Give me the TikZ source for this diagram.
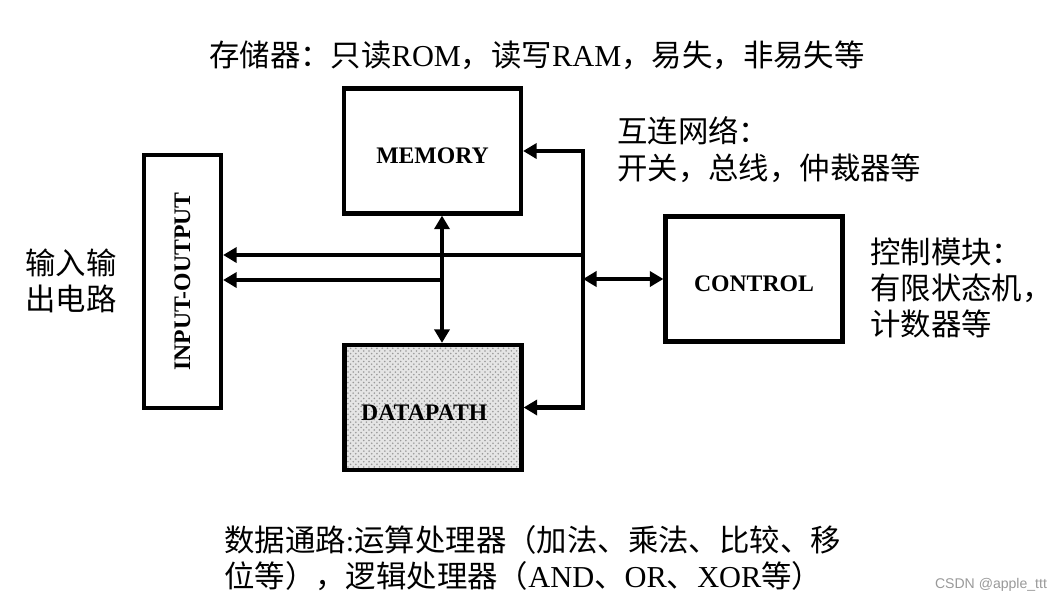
\documentclass[tikz,border=0pt]{standalone}
\usepackage{fontspec}
\setmainfont{Liberation Serif}
\newfontfamily\cjk{Noto Sans CJK SC}
\newfontfamily\wmfont{Liberation Sans}
\usetikzlibrary{arrows.meta,patterns,positioning}
\newcommand{\lat}[1]{{\rmfamily #1}}

\begin{document}
\begin{tikzpicture}[
    block/.style={rectangle, draw, line width=2.4pt, minimum width=3.54cm, minimum height=2.5cm, text height=0.5cm, text depth=0cm, font=\fontsize{13.5}{16}\selectfont\bfseries},
    arrow/.style={-{Triangle[length=0.27cm, width=0.3cm]}, line width=2.4pt},
    dblarrow/.style={{Triangle[length=0.27cm, width=0.3cm]}-{Triangle[length=0.27cm, width=0.3cm]}, line width=2.4pt},
    note/.style={align=left, inner sep=0pt, font=\fontsize{17.3}{20.5}\selectfont\cjk}
]
\useasboundingbox (0,0) rectangle (21.26,-12.08);

% the four units
\node[block] (memory) at (8.65,-3.02) {MEMORY};
\node[block, preaction={fill=gray!20}, pattern=crosshatch dots, pattern color=gray!80] (datapath) at (8.66,-8.15) {DATAPATH\hspace*{0.35cm}};
\node[block] (control) at (15.08,-5.58) {CONTROL};
\node[block, minimum width=1.54cm, minimum height=5.06cm] (io) at (3.65,-5.63) {};
\node[rotate=90, font=\fontsize{13.5}{16}\selectfont\bfseries] (iolabel) at (io.center) {INPUT-OUTPUT};

% bus and taps
\coordinate (bus) at (11.66,-5.6);
\coordinate (tap) at (8.84,-5.6);
\coordinate (upper) at (11.66,-5.10);

\draw[dblarrow] (memory.east) -- (memory.east -| bus) -- (datapath.east -| bus) -- (datapath.east);
\draw[dblarrow] (control.west) -- (control.west -| bus);
\draw[dblarrow] (memory.south -| tap) -- (datapath.north -| tap);
\draw[arrow] (upper) -- (upper -| io.east);
\draw[arrow] (tap) -- (tap -| io.east);

% notes
\node[note] (memnote) at (10.74,-1.1) {存储器：只读\lat{ROM}，读写\lat{RAM}，易失，非易失等};
\node[note, anchor=west, font=\fontsize{17.3}{21}\selectfont\cjk] (netnote) at (12.34,-2.99) {互连网络：\\开关，总线，仲裁器等};
\node[note, anchor=west] (ctrlnote) at (17.4,-5.76) {控制模块：\\有限状态机，\\计数器等};
\node[note, anchor=west] (ionote) at (0.5,-5.61) {输入输\\出电路};
\node[note, anchor=west] (dpnote) at (4.48,-11.16) {数据通路\lat{:}运算处理器（加法、乘法、比较、移\\位等），逻辑处理器（\lat{AND}、\lat{OR}、\lat{XOR}等）};
\node[text=black!40, font=\fontsize{8}{10}\selectfont\wmfont] (mark) at (19.82,-11.7) {CSDN @apple\_ttt};
\end{tikzpicture}
\end{document}
